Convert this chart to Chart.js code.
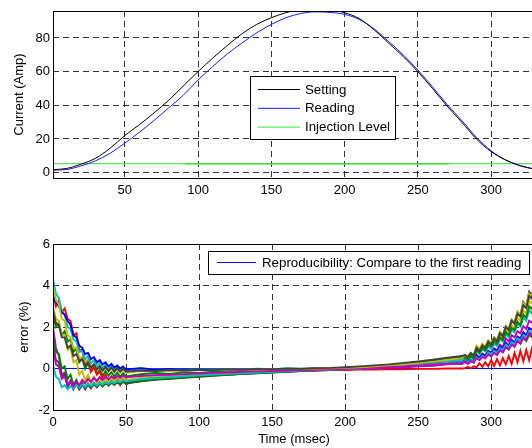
<!DOCTYPE html>
<html>
<head>
<meta charset="utf-8">
<script src="https://cdn.jsdelivr.net/npm/chart.js@4.4.1/dist/chart.umd.min.js"></script>
<style>
  html, body { margin: 0; padding: 0; background: #fff; }
  #figure { position: relative; width: 532px; height: 448px; overflow: hidden; }
  #figure canvas { position: absolute; left: 0; }
  #currentChart { top: 0; }
  #errorChart { top: 225px; }
</style>
</head>
<body>
<div id="figure">
  <canvas id="currentChart" width="545" height="225"></canvas>
  <canvas id="errorChart" width="545" height="223"></canvas>
</div>
<script>
// --- top plot: current pulse (Amp) vs time (msec) ---
const timeCurrent = [1, 10, 20, 30, 40, 50, 60, 70, 80, 90, 100, 110, 120, 130, 140, 150, 160, 170,
  180, 190, 200, 210, 220, 230, 240, 250, 260, 270, 280, 290, 300, 310, 320, 330];
const settingAmp = [1.8, 2.4, 5.0, 8.5, 14.5, 22, 28.5, 35.5, 43, 51.5, 60, 68, 75.5, 82.5, 88, 92, 95, 97,
  97.5, 97, 95, 91.5, 85, 77, 69, 60, 50, 39.5, 30, 20, 12.5, 7.5, 4, 2];
const readingAmp = [1.5, 1.8, 4.0, 7.0, 11.5, 17.5, 24, 31, 38.5, 46, 55, 63, 70.5, 77, 83, 88, 92, 94.5,
  95.5, 95.2, 94, 91, 85.5, 78, 70, 61, 51, 40.5, 31, 21, 13, 7.5, 4.2, 2];
const injectionTime = [1, 330];
const injectionAmp = [5.3, 5.3];
const injectionWindowTime = [91, 271];
const injectionWindowAmp = [5.3, 5.3];

const currentXTicks = [50, 100, 150, 200, 250, 300];
const currentYTicks = [0, 20, 40, 60, 80];

// --- bottom plot: error (%) of each reading against the first one ---
const timeError = [0, 2, 4, 6, 8, 10, 12, 14, 16, 18, 20, 22, 24, 26, 28, 30, 32, 34, 36, 38, 40, 42, 44, 46, 48, 50,
  60, 70, 80, 90, 100, 110, 120, 130, 140, 150, 160, 170, 180, 190, 200, 210, 220, 230, 240, 250, 260, 270, 280,
  282, 284, 286, 288, 290, 292, 294, 296, 298, 300, 302, 304, 306, 308, 310, 312, 314, 316, 318, 320, 322, 324, 326, 328, 330];
const firstRunTime = [0, 330];
const firstRunError = [0, 0];

const errRun2 = [2.5, 2.0, 2.2, 1.6, 1.8, 1.3, 1.4, 0.8, 0.95, 0.3, 0.5, 0.0, 0.25, -0.15, 0.05, -0.25, -0.05, -0.35, -0.12, -0.35, -0.18, -0.38, -0.2, -0.4, -0.22, -0.38,
  -0.28, -0.22, -0.26, -0.18, -0.22, -0.15, -0.18, -0.11, -0.14, -0.08, -0.1, -0.05, -0.07, -0.02, -0.05, 0.02, 0.0, 0.08, 0.07, 0.16, 0.13, 0.25, 0.22,
  0.35, 0.25, 0.4, 0.3, 0.6, 0.48, 0.65, 0.55, 0.75, 0.62, 0.82, 0.7, 0.92, 0.8, 1.08, 0.92, 1.2, 1.05, 1.35, 1.2, 1.48, 1.32, 1.62, 1.5, 1.78];
const errRun3 = [3.6, 3.0, 3.3, 2.7, 2.9, 2.4, 2.3, 1.6, 1.7, 0.9, 0.9, 0.2, 0.4, -0.15, 0.1, -0.3, -0.15, -0.5, -0.3, -0.65, -0.4, -0.75, -0.5, -0.8, -0.55, -0.75,
  -0.5, -0.42, -0.4, -0.33, -0.32, -0.26, -0.25, -0.2, -0.19, -0.15, -0.14, -0.11, -0.1, -0.07, -0.08, -0.05, -0.05, -0.03, -0.04, -0.02, -0.02, 0.0, 0.0,
  0.02, 0.08, 0.0, 0.1, 0.05, 0.25, 0.08, 0.3, 0.1, 0.4, 0.12, 0.45, 0.15, 0.5, 0.2, 0.6, 0.22, 0.75, 0.3, 0.85, 0.35, 0.9, 0.4, 1.0, 0.5];
const errRun4 = [4.3, 3.6, 3.4, 2.8, 2.6, 2.0, 1.9, 1.4, 1.3, 0.8, 0.85, 0.45, 0.6, 0.25, 0.4, 0.1, 0.3, 0.0, 0.2, -0.05, 0.15, -0.08, 0.1, -0.1, 0.05, -0.1,
  0.0, -0.05, -0.02, -0.06, -0.03, -0.05, -0.02, -0.04, -0.01, -0.03, 0.0, -0.02, 0.01, 0.0, 0.03, 0.05, 0.09, 0.12, 0.17, 0.22, 0.28, 0.35, 0.42,
  0.48, 0.38, 0.55, 0.45, 0.85, 0.7, 0.92, 0.82, 1.05, 0.95, 1.18, 1.08, 1.4, 1.3, 1.65, 1.5, 1.85, 1.75, 2.15, 2.0, 2.45, 2.3, 2.8, 2.65, 3.2];
const errRun5 = [2.0, 1.0, 0.6, -0.3, -0.2, -0.9, -0.6, -1.0, -0.7, -1.0, -0.75, -1.0, -0.75, -0.95, -0.7, -0.9, -0.68, -0.85, -0.65, -0.82, -0.62, -0.78, -0.6, -0.75, -0.58, -0.7,
  -0.6, -0.5, -0.46, -0.4, -0.36, -0.32, -0.29, -0.25, -0.22, -0.18, -0.16, -0.12, -0.1, -0.07, -0.05, -0.02, 0.0, 0.03, 0.05, 0.1, 0.13, 0.2, 0.25,
  0.3, 0.22, 0.35, 0.28, 0.65, 0.5, 0.72, 0.6, 0.85, 0.75, 0.98, 0.88, 1.15, 1.05, 1.45, 1.3, 1.6, 1.5, 1.8, 1.7, 2.05, 1.9, 2.3, 2.2, 2.6];
const errRun6 = [3.0, 2.4, 2.3, 1.6, 1.6, 0.9, 1.0, 0.3, 0.4, -0.3, -0.1, -0.6, -0.3, -0.7, -0.4, -0.7, -0.45, -0.72, -0.45, -0.7, -0.45, -0.65, -0.42, -0.6, -0.4, -0.55,
  -0.45, -0.38, -0.36, -0.3, -0.28, -0.22, -0.2, -0.15, -0.13, -0.1, -0.07, -0.05, -0.02, 0.0, 0.02, 0.06, 0.1, 0.15, 0.2, 0.27, 0.35, 0.45, 0.52,
  0.6, 0.48, 0.68, 0.58, 0.95, 0.8, 1.05, 0.92, 1.2, 1.1, 1.35, 1.25, 1.6, 1.45, 1.85, 1.7, 2.1, 1.95, 2.45, 2.3, 2.8, 2.65, 3.3, 3.1, 3.85];
const errRun7 = [1.2, 0.4, 0.3, -0.4, -0.3, -0.8, -0.6, -0.95, -0.75, -1.0, -0.8, -0.95, -0.8, -0.92, -0.78, -0.88, -0.75, -0.85, -0.72, -0.8, -0.7, -0.78, -0.68, -0.75, -0.65, -0.72,
  -0.62, -0.55, -0.5, -0.45, -0.4, -0.35, -0.3, -0.26, -0.22, -0.18, -0.15, -0.1, -0.08, -0.04, -0.02, 0.03, 0.08, 0.14, 0.2, 0.28, 0.36, 0.45, 0.55,
  0.65, 0.52, 0.72, 0.6, 1.05, 0.9, 1.15, 1.0, 1.3, 1.2, 1.5, 1.38, 1.75, 1.6, 2.05, 1.9, 2.35, 2.2, 2.7, 2.55, 3.2, 3.0, 3.7, 3.5, 4.4];
const errRun8 = [3.5, 3.2, 3.0, 2.7, 2.6, 2.3, 2.1, 1.6, 1.5, 1.1, 1.0, 0.7, 0.75, 0.45, 0.55, 0.3, 0.4, 0.2, 0.3, 0.1, 0.22, 0.05, 0.15, 0.0, 0.1, -0.05,
  0.02, -0.06, -0.02, -0.07, -0.04, -0.07, -0.04, -0.06, -0.03, -0.05, -0.02, -0.03, 0.0, -0.01, 0.02, 0.04, 0.07, 0.1, 0.13, 0.17, 0.22, 0.27, 0.33,
  0.38, 0.3, 0.42, 0.35, 0.65, 0.52, 0.7, 0.6, 0.85, 0.75, 0.92, 0.82, 1.05, 0.95, 1.25, 1.1, 1.38, 1.25, 1.55, 1.45, 1.75, 1.6, 1.95, 1.85, 2.25];
const errRun9 = [1.5, 0.8, 0.7, 0.0, 0.1, -0.5, -0.3, -0.8, -0.55, -0.95, -0.7, -0.95, -0.72, -0.9, -0.7, -0.88, -0.68, -0.85, -0.66, -0.8, -0.64, -0.76, -0.62, -0.72, -0.6, -0.68,
  -0.6, -0.52, -0.48, -0.42, -0.38, -0.33, -0.3, -0.26, -0.23, -0.19, -0.16, -0.12, -0.09, -0.06, -0.03, 0.02, 0.07, 0.13, 0.2, 0.27, 0.35, 0.44, 0.5,
  0.55, 0.42, 0.6, 0.5, 0.9, 0.75, 1.0, 0.88, 1.15, 1.05, 1.3, 1.18, 1.5, 1.38, 1.75, 1.6, 1.95, 1.85, 2.25, 2.1, 2.6, 2.45, 3.0, 2.85, 3.5];
const errRun10 = [0.2, -0.4, -0.5, -0.9, -0.8, -1.0, -0.85, -0.95, -0.8, -0.9, -0.78, -0.88, -0.75, -0.85, -0.72, -0.82, -0.7, -0.78, -0.66, -0.74, -0.63, -0.7, -0.6, -0.66, -0.57, -0.62,
  -0.52, -0.46, -0.42, -0.37, -0.33, -0.29, -0.26, -0.22, -0.2, -0.16, -0.14, -0.1, -0.08, -0.05, -0.03, 0.0, 0.04, 0.08, 0.12, 0.17, 0.22, 0.28, 0.32,
  0.36, 0.3, 0.4, 0.33, 0.55, 0.45, 0.6, 0.52, 0.78, 0.68, 0.85, 0.75, 0.98, 0.88, 1.15, 1.02, 1.28, 1.15, 1.45, 1.32, 1.6, 1.5, 1.8, 1.7, 2.05];
const errRun11 = [1.0, 0.2, 0.1, -0.5, -0.4, -0.8, -0.6, -0.85, -0.6, -0.8, -0.55, -0.72, -0.5, -0.65, -0.45, -0.6, -0.42, -0.55, -0.4, -0.52, -0.38, -0.48, -0.36, -0.45, -0.34, -0.42,
  -0.36, -0.32, -0.3, -0.27, -0.24, -0.21, -0.19, -0.16, -0.14, -0.12, -0.1, -0.08, -0.06, -0.04, -0.02, 0.01, 0.04, 0.07, 0.1, 0.14, 0.18, 0.23, 0.27,
  0.32, 0.25, 0.36, 0.3, 0.5, 0.4, 0.56, 0.48, 0.68, 0.58, 0.75, 0.65, 0.88, 0.78, 1.02, 0.92, 1.15, 1.05, 1.32, 1.2, 1.5, 1.38, 1.7, 1.6, 2.0];
const errRun12 = [4.0, 3.3, 3.1, 2.4, 2.3, 1.6, 1.5, 1.0, 1.0, 0.5, 0.55, 0.2, 0.35, 0.05, 0.2, -0.05, 0.1, -0.12, 0.05, -0.15, 0.0, -0.18, -0.03, -0.2, -0.05, -0.2,
  -0.12, -0.12, -0.1, -0.1, -0.08, -0.08, -0.06, -0.06, -0.04, -0.04, -0.02, -0.02, 0.0, 0.01, 0.03, 0.06, 0.1, 0.15, 0.2, 0.26, 0.33, 0.42, 0.5,
  0.65, 0.55, 0.75, 0.65, 1.1, 0.95, 1.2, 1.05, 1.35, 1.22, 1.5, 1.38, 1.75, 1.6, 2.05, 1.88, 2.35, 2.2, 2.75, 2.6, 3.15, 3.0, 3.6, 3.45, 4.1];
const errRun13 = [2.8, 2.2, 2.1, 1.5, 1.5, 1.0, 1.1, 0.6, 0.7, 0.35, 0.45, 0.15, 0.3, 0.05, 0.2, -0.05, 0.12, -0.1, 0.08, -0.12, 0.05, -0.15, 0.02, -0.15, 0.0, -0.15,
  -0.1, -0.12, -0.08, -0.1, -0.06, -0.08, -0.04, -0.06, -0.02, -0.04, 0.0, -0.01, 0.02, 0.03, 0.06, 0.1, 0.15, 0.2, 0.27, 0.34, 0.42, 0.52, 0.6,
  0.65, 0.55, 0.75, 0.62, 1.0, 0.85, 1.12, 0.98, 1.3, 1.15, 1.45, 1.3, 1.7, 1.55, 2.0, 1.85, 2.3, 2.15, 2.65, 2.5, 3.05, 2.9, 3.5, 3.35, 4.2];

const errorRuns = [errRun2, errRun3, errRun4, errRun5, errRun6, errRun7, errRun8, errRun9, errRun10, errRun11, errRun12, errRun13];
// matlab default line colour order
const runColors = ['#008000', '#ff0000', '#00bfbf', '#bf00bf', '#bfbf00', '#404040',
  '#0000ff', '#008000', '#00bfbf', '#bf00bf', '#bfbf00', '#404040'];

const errorXTicks = [0, 50, 100, 150, 200, 250, 300];
const errorYTicks = [-2, 0, 2, 4, 6];

Chart.defaults.font.family = "'Liberation Sans', Arial, Helvetica, sans-serif";
Chart.defaults.font.size = 13;
Chart.defaults.color = '#000';

function toPoints(xs, ys) {
    return xs.map((x, i) => ({ x: x, y: ys[i] }));
}

// box round the axes + a matlab style legend
const matlabBox = {
    id: 'matlabBox',
    afterDraw(chart, args, opts) {
        const ctx = chart.ctx;
        const a = chart.chartArea;
        ctx.save();
        ctx.setLineDash([]);
        ctx.strokeStyle = '#000';
        ctx.lineWidth = 1;
        ctx.strokeRect(a.left + 0.5, a.top + 0.5, a.right - a.left, a.bottom - a.top);

        const lg = opts.legend;
        if (lg) {
            ctx.fillStyle = '#fff';
            ctx.fillRect(lg.x, lg.y, lg.w, lg.h);
            ctx.strokeRect(lg.x + 0.5, lg.y + 0.5, lg.w, lg.h);
            ctx.font = "13.3px 'Liberation Sans', Arial, sans-serif";
            ctx.textBaseline = 'middle';
            chart.data.datasets.filter(d => d.inLegend).forEach((d, i) => {
                const y = lg.firstRow + i * lg.rowGap;
                ctx.strokeStyle = d.legendColor || d.borderColor;
                ctx.beginPath();
                ctx.moveTo(lg.lineFrom, y + 0.5);
                ctx.lineTo(lg.lineTo, y + 0.5);
                ctx.stroke();
                ctx.fillStyle = '#000';
                ctx.fillText(d.label, lg.textX, y + 1);
            });
        }
        ctx.restore();
    }
};

function makeAxis(min, max, tickValues, fitSize, horizontal, title) {
    return {
        type: 'linear',
        min: min,
        max: max,
        afterBuildTicks: s => { s.ticks = tickValues.map(v => ({ value: v })); },
        afterFit: s => { if (horizontal) { s.height = fitSize; } else { s.width = fitSize; } },
        grid: { color: 'rgba(0,0,0,0.8)', lineWidth: 1, drawTicks: false },
        border: { display: false, dash: [6, 4] },
        ticks: { padding: horizontal ? 5 : 3, color: '#000', font: { size: 13 } },
        title: title
    };
}

// --- current chart ---
new Chart(document.getElementById('currentChart'), {
    type: 'line',
    data: {
        datasets: [
            {
                label: 'Setting',
                data: toPoints(timeCurrent, settingAmp),
                borderColor: '#000000',
                cubicInterpolationMode: 'monotone',
                inLegend: true,
                order: 1
            },
            {
                label: 'Reading',
                data: toPoints(timeCurrent, readingAmp),
                borderColor: '#1a1aff',
                cubicInterpolationMode: 'monotone',
                inLegend: true,
                order: 2
            },
            {
                label: 'Injection Level',
                data: toPoints(injectionTime, injectionAmp),
                borderColor: '#66de66',
                legendColor: '#33ee33',
                borderWidth: 1.2,
                inLegend: true,
                order: 4
            },
            {
                label: 'Injection window',
                data: toPoints(injectionWindowTime, injectionWindowAmp),
                borderColor: '#44dd44',
                borderWidth: 1.6,
                order: 3
            }
        ]
    },
    options: {
        responsive: false,
        animation: false,
        layout: { padding: { top: 11, right: 10, left: 0, bottom: 0 } },
        elements: { point: { radius: 0 }, line: { borderWidth: 1 } },
        plugins: {
            legend: { display: false },
            tooltip: { enabled: false },
            matlabBox: {
                legend: { x: 250, y: 76, w: 145, h: 63, firstRow: 89, rowGap: 18.8, lineFrom: 258, lineTo: 300, textX: 305 }
            }
        },
        scales: {
            x: makeAxis(1, 330, currentXTicks, 47, true, { display: false }),
            y: makeAxis(-3.2, 96, currentYTicks, 53, false,
                { display: true, text: 'Current (Amp)', font: { size: 13 }, padding: { top: 12, bottom: 0 } })
        }
    },
    plugins: [matlabBox]
});

// --- error chart ---
const errorDatasets = [{
    label: 'Reproducibility: Compare to the first reading',
    data: toPoints(firstRunTime, firstRunError),
    borderColor: '#0000ff',
    borderWidth: 1,
    inLegend: true,
    order: errorRuns.length + 1
}].concat(errorRuns.map((run, i) => ({
    label: 'Reading ' + (i + 2),
    data: toPoints(timeError, run),
    borderColor: runColors[i],
    borderWidth: 1.9,
    order: errorRuns.length - i
})));

new Chart(document.getElementById('errorChart'), {
    type: 'line',
    data: { datasets: errorDatasets },
    options: {
        responsive: false,
        animation: false,
        layout: { padding: { top: 19, right: 10, left: 0, bottom: 0 } },
        elements: { point: { radius: 0 }, line: { tension: 0 } },
        plugins: {
            legend: { display: false },
            tooltip: { enabled: false },
            matlabBox: {
                legend: { x: 208, y: 26, w: 321, h: 23, firstRow: 37, rowGap: 0, lineFrom: 217, lineTo: 256, textX: 262 }
            }
        },
        scales: {
            x: makeAxis(0, 330, errorXTicks, 38, true,
                { display: true, text: 'Time (msec)', font: { size: 13 }, padding: { top: 0, bottom: 1 } }),
            y: makeAxis(-2, 6, errorYTicks, 53, false,
                { display: true, text: 'error (%)', font: { size: 13 }, padding: { top: 17, bottom: 0 } })
        }
    },
    plugins: [matlabBox]
});
</script>
</body>
</html>
